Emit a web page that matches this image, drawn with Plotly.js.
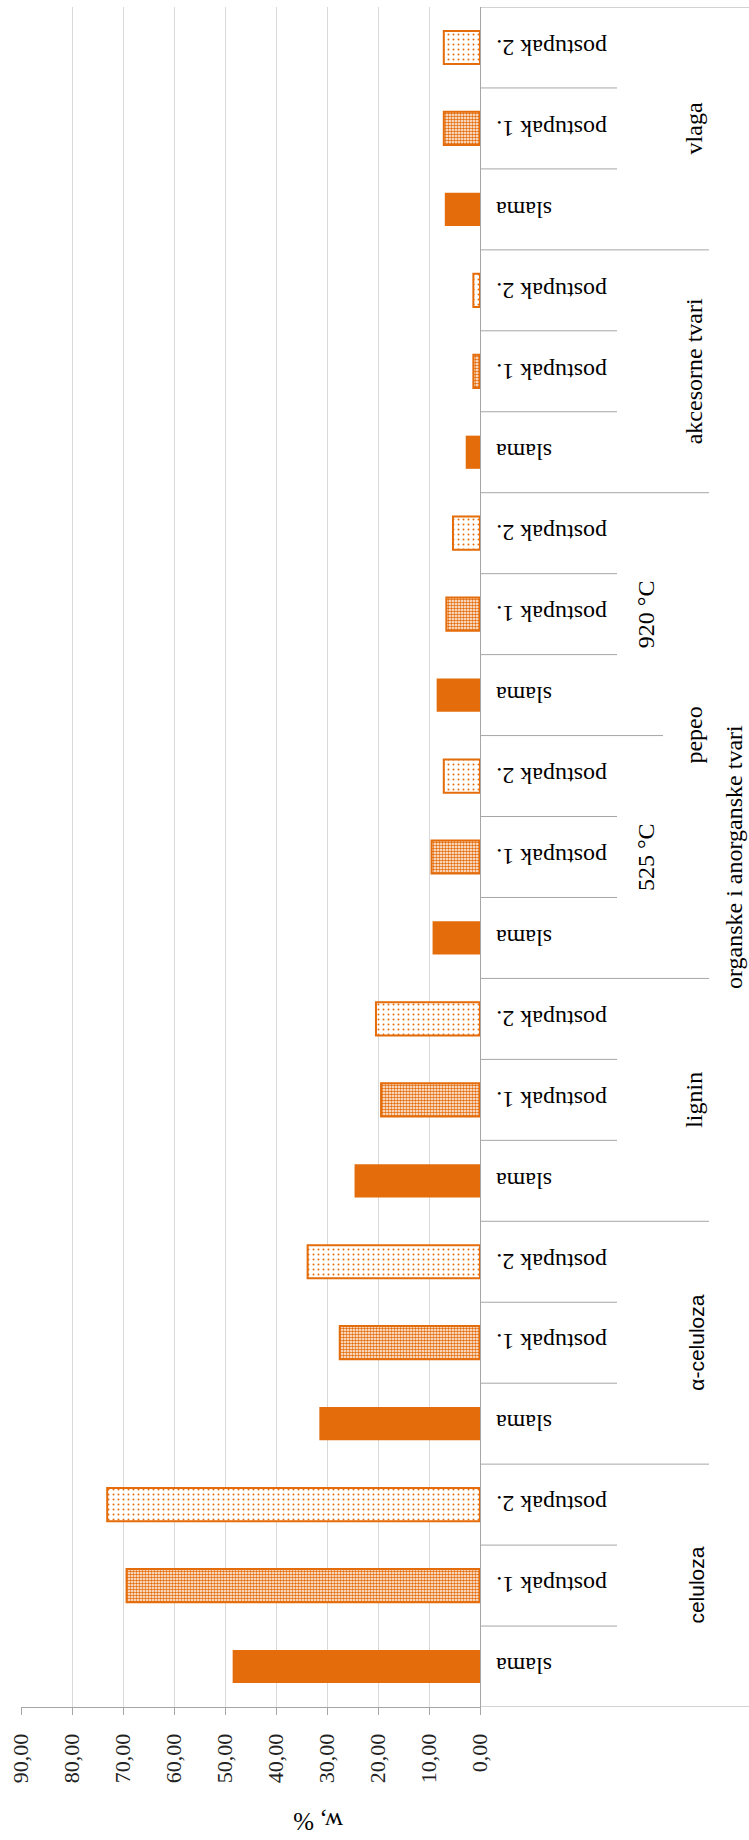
<!DOCTYPE html>
<html><head><meta charset="utf-8">
<script src="https://cdn.plot.ly/plotly-3.0.1.min.js"></script>
<style>html,body{margin:0;padding:0;background:#fff}#chart{width:749px;height:1840px}</style>
</head><body><div id="chart"></div>
<script>
// ---- data ----
const groups = ['celuloza', 'α-celuloza', 'lignin', 'pepeo', 'pepeo', 'akcesorne tvari', 'vlaga'];
const subgroups = ['', '', '', '525 °C', '920 °C', '', ''];
const superGroup = 'organske i anorganske tvari';
const seriesNames = ['slama', 'postupak 1.', 'postupak 2.'];
const slama     = [48.5, 31.5, 24.6, 9.3, 8.5, 2.8, 6.9];
const postupak1 = [69.3, 27.5, 19.4, 9.5, 6.6, 1.3, 7.1];
const postupak2 = [73.1, 33.8, 20.4, 7.1, 5.3, 1.3, 7.1];
const valueTicks = [0, 10, 20, 30, 40, 50, 60, 70, 80, 90];
const axisTitle = 'w, %';

// ---- geometry ----
const W = 749, H = 1840;
const mL = 21, mR = 269, mT = 7, mB = 133;
const plotW = W - mL - mR, plotH = H - mT - mB;
const px2paperX = p => (p - mL) / plotW;
const px2paperY = p => (H - mB - p) / plotH;

const ORANGE = '#E46C0A';
const LINE = '#A6A6A6';
const SERIF = 'Liberation Serif, Times New Roman, serif';
const SANS = 'Liberation Sans, Arial, sans-serif';
const nSeries = seriesNames.length;
const nSlots = groups.length * nSeries;

const seriesValues = [slama, postupak1, postupak2];
const patterns = [
  null,
  {shape: '.', fgcolor: ORANGE, bgcolor: '#ffffff', size: 3, solidity: 0.55},
  {shape: '.', fgcolor: ORANGE, bgcolor: '#ffffff', size: 5, solidity: 0.12}
];

const traces = seriesValues.map((vals, s) => {
  const m = {color: ORANGE, line: {color: ORANGE, width: s === 0 ? 0 : 2}};
  if (patterns[s]) m.pattern = patterns[s];
  return {
    type: 'bar', orientation: 'h', name: seriesNames[s],
    x: vals, y: groups.map((g, i) => i * nSeries + s),
    width: 0.41, marker: m, hoverinfo: 'x'
  };
});

// ---- category labels (annotations) ----
const ann = [];
groups.forEach((g, i) => {
  seriesNames.forEach((sn, s) => {
    ann.push({xref: 'paper', yref: 'y', x: px2paperX(494), y: i * nSeries + s,
      xanchor: 'left', yanchor: 'middle', textangle: 180, showarrow: false,
      text: sn, font: {family: SERIF, size: 24, color: '#000'}});
  });
  if (subgroups[i]) {
    ann.push({xref: 'paper', yref: 'y', x: px2paperX(646), y: i * nSeries + (nSeries - 1) / 2,
      xanchor: 'center', yanchor: 'middle', textangle: -90, showarrow: false,
      text: subgroups[i], font: {family: SERIF, size: 24, color: '#000'}});
  }
});
// spans of level-3 group names
let start = 0;
for (let i = 1; i <= groups.length; i++) {
  if (i === groups.length || groups[i] !== groups[start]) {
    const y0 = start * nSeries, y1 = i * nSeries - 1;
    const sans = groups[start].indexOf('celuloza') >= 0;
    ann.push({xref: 'paper', yref: 'y', x: px2paperX(sans ? 697 : 694), y: (y0 + y1) / 2,
      xanchor: 'center', yanchor: 'middle', textangle: -90, showarrow: false,
      text: groups[start], font: {family: sans ? SANS : SERIF, size: sans ? 21 : 24, color: '#000'}});
    start = i;
  }
}
ann.push({xref: 'paper', yref: 'y', x: px2paperX(734), y: (nSlots - 1) / 2,
  xanchor: 'center', yanchor: 'middle', textangle: -90, showarrow: false,
  text: superGroup, font: {family: SERIF, size: 24, color: '#000'}});
ann.push({xref: 'paper', yref: 'paper', x: px2paperX(318), y: px2paperY(1822),
  xanchor: 'center', yanchor: 'middle', textangle: 180, showarrow: false,
  text: axisTitle, font: {family: SERIF, size: 25, color: '#000'}});

// ---- divider lines of the multi-level category axis ----
const shapes = [];
const lvlEnd = {1: px2paperX(617), 2: px2paperX(663), 3: px2paperX(709), 4: px2paperX(749)};
for (let k = 0; k <= nSlots; k++) {
  const b = k - 0.5;
  let lvl;
  if (k === 0 || k === nSlots) lvl = 4;
  else {
    const gA = Math.floor((k - 1) / nSeries), gB = Math.floor(k / nSeries);
    if (groups[gA] !== groups[gB]) lvl = 3;
    else if (subgroups[gA] !== subgroups[gB]) lvl = 2;
    else lvl = 1;
  }
  shapes.push({type: 'line', xref: 'paper', yref: 'y', x0: 1, x1: lvlEnd[lvl], y0: b, y1: b,
    line: {color: LINE, width: 1}, layer: 'above'});
}

const layout = {
  width: W, height: H,
  margin: {l: mL, r: mR, t: mT, b: mB, pad: 0},
  paper_bgcolor: '#fff', plot_bgcolor: '#fff',
  showlegend: false, barmode: 'overlay',
  separators: ',.',
  xaxis: {
    range: [90, 0], tickvals: valueTicks, tickformat: '.2f',
    tickangle: -90, ticks: 'outside', ticklen: 7, tickcolor: LINE,
    showline: true, linecolor: LINE, linewidth: 1,
    showgrid: true, gridcolor: '#D9D9D9', gridwidth: 1, zeroline: false,
    tickfont: {family: SERIF, size: 22, color: '#222'},
    ticklabelstandoff: 10, fixedrange: true
  },
  yaxis: {
    range: [-0.5, nSlots - 0.5], side: 'right',
    showline: true, linecolor: LINE, linewidth: 1,
    showticklabels: false, ticks: '', showgrid: false, zeroline: false, fixedrange: true
  },
  annotations: ann, shapes: shapes
};

Plotly.newPlot('chart', traces, layout, {displayModeBar: false, staticPlot: true});
</script></body></html>
